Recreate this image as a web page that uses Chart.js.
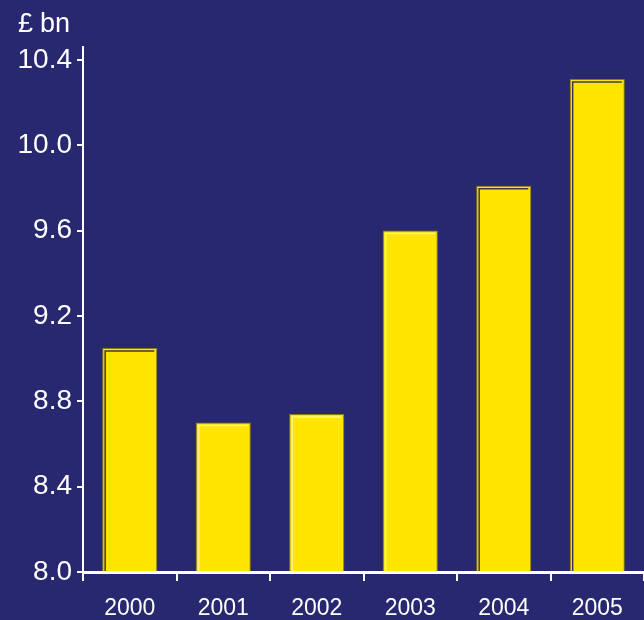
<!DOCTYPE html>
<html>
<head>
<meta charset="utf-8">
<script src="https://cdn.jsdelivr.net/npm/chart.js@4/dist/chart.umd.min.js"></script>
<style>
  html, body { margin: 0; padding: 0; background: #282870; }
  canvas { display: block; }
</style>
</head>
<body>
<canvas id="spendChart" width="644" height="620"></canvas>
<script>
const years = ['2000', '2001', '2002', '2003', '2004', '2005'];
const spending = [9.05, 8.70, 8.74, 9.60, 9.81, 10.31];
const yTicks = [8.0, 8.4, 8.8, 9.2, 9.6, 10.0, 10.4];

// inner edge shading per bar (dark shadow line or light highlight)
const insetTone = ['#3b3b45', '#fff38a', '#fff38a', '#fff38a', '#3b3b45', '#3b3b45'];

const unitLabel = {
  id: 'unitLabel',
  afterDraw(chart) {
    const ctx = chart.ctx;
    ctx.save();
    ctx.fillStyle = '#ffffff';
    ctx.font = '27px "Liberation Sans", Arial, sans-serif';
    ctx.textBaseline = 'alphabetic';
    ctx.fillText('£', 18, 32);
    ctx.fillText('bn', 40, 32);
    ctx.restore();
  }
};

const barInset = {
  id: 'barInset',
  afterDatasetsDraw(chart) {
    const ctx = chart.ctx;
    const meta = chart.getDatasetMeta(0);
    const bottom = chart.chartArea.bottom;
    ctx.save();
    ctx.lineWidth = 1.5;
    meta.data.forEach((bar, i) => {
      const left = bar.x - bar.width / 2 + 3;
      const right = bar.x + bar.width / 2 - 3;
      const top = bar.y + 3;
      ctx.strokeStyle = insetTone[i];
      ctx.beginPath();
      ctx.moveTo(left, bottom);
      ctx.lineTo(left, top);
      ctx.lineTo(right, top);
      ctx.stroke();
    });
    ctx.restore();
  }
};

const ctx = document.getElementById('spendChart').getContext('2d');

new Chart(ctx, {
  type: 'bar',
  data: {
    labels: years,
    datasets: [{
      data: spending,
      backgroundColor: '#ffe500',
      borderColor: '#8a7d10',
      borderWidth: 1,
      borderSkipped: 'bottom',
      barPercentage: 0.59,
      categoryPercentage: 1
    }]
  },
  options: {
    responsive: false,
    animation: false,
    layout: { padding: { top: 47, left: 0, right: 0, bottom: 0 } },
    plugins: {
      legend: { display: false },
      tooltip: { enabled: false }
    },
    scales: {
      x: {
        afterFit: (scale) => { scale.height = 48; },
        border: { color: '#ffffff', width: 3, z: 1 },
        grid: {
          drawOnChartArea: false,
          color: '#ffffff',
          lineWidth: 2,
          tickLength: 9
        },
        ticks: {
          color: '#ffffff',
          padding: 14,
          maxRotation: 0,
          font: { family: '"Liberation Sans", Arial, sans-serif', size: 23 }
        }
      },
      y: {
        min: 8.0,
        max: 10.46,
        afterFit: (scale) => { scale.width = 83; },
        afterBuildTicks: (scale) => {
          scale.ticks = yTicks.map(v => ({ value: v }));
        },
        border: { color: '#ffffff', width: 2 },
        grid: {
          drawOnChartArea: false,
          color: '#ffffff',
          lineWidth: 2,
          tickLength: 6
        },
        ticks: {
          color: '#ffffff',
          padding: 5,
          callback: (value) => Number(value).toFixed(1),
          font: { family: '"Liberation Sans", Arial, sans-serif', size: 28 }
        }
      }
    }
  },
  plugins: [unitLabel, barInset]
});
</script>
</body>
</html>
